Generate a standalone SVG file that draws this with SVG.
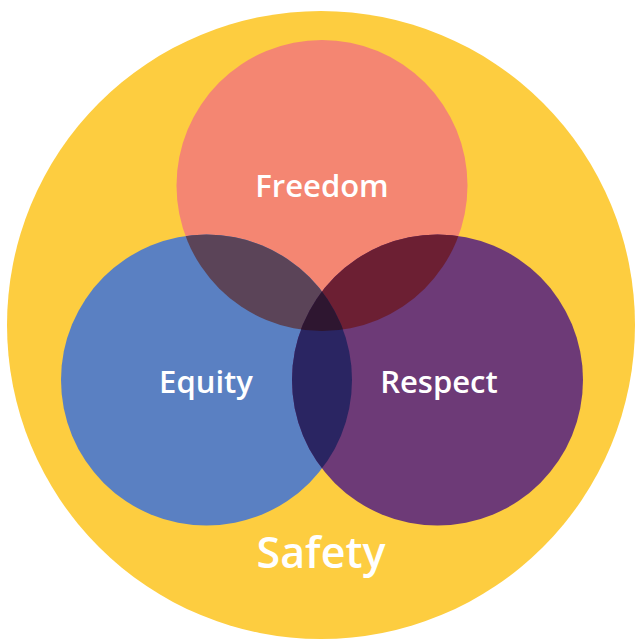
<svg xmlns="http://www.w3.org/2000/svg" width="635" height="639" viewBox="0 0 635 639">
<style>
.lbl{font-family:"Open Sans","Liberation Sans",sans-serif;fill:#ffffff;text-anchor:middle;font-weight:600}
</style>
<defs>
<clipPath id="cF"><circle cx="322" cy="185.5" r="145.5"/></clipPath>
<clipPath id="cE"><circle cx="206.5" cy="380" r="145.5"/></clipPath>
<clipPath id="cR"><circle cx="437.5" cy="380" r="145.5"/></clipPath>
</defs>
<rect width="635" height="639" fill="#ffffff"/>
<g id="safety">
<circle cx="321" cy="325" r="314" fill="#FDCD40"/>
<text class="lbl" x="321" y="568" font-size="43">Safety</text>
</g>
<g id="freedom"><circle cx="322" cy="185.5" r="145.5" fill="#F48672"/></g>
<g id="equity"><circle cx="206.5" cy="380" r="145.5" fill="#5A80C2"/></g>
<g id="respect"><circle cx="437.5" cy="380" r="145.5" fill="#6D3A77"/></g>
<g id="overlaps">
<g clip-path="url(#cF)"><circle cx="206.5" cy="380" r="145.5" fill="#5B4458"/></g>
<g clip-path="url(#cF)"><circle cx="437.5" cy="380" r="145.5" fill="#6C1F33"/></g>
<g clip-path="url(#cE)"><circle cx="437.5" cy="380" r="145.5" fill="#2A2562"/></g>
<g clip-path="url(#cF)"><g clip-path="url(#cE)"><circle cx="437.5" cy="380" r="145.5" fill="#2E1630"/></g></g>
</g>
<g id="labels">
<text class="lbl" x="322" y="197" font-size="31">Freedom</text>
<text class="lbl" x="206" y="393" font-size="31">Equity</text>
<text class="lbl" x="439" y="393" font-size="31">Respect</text>
</g>
</svg>
